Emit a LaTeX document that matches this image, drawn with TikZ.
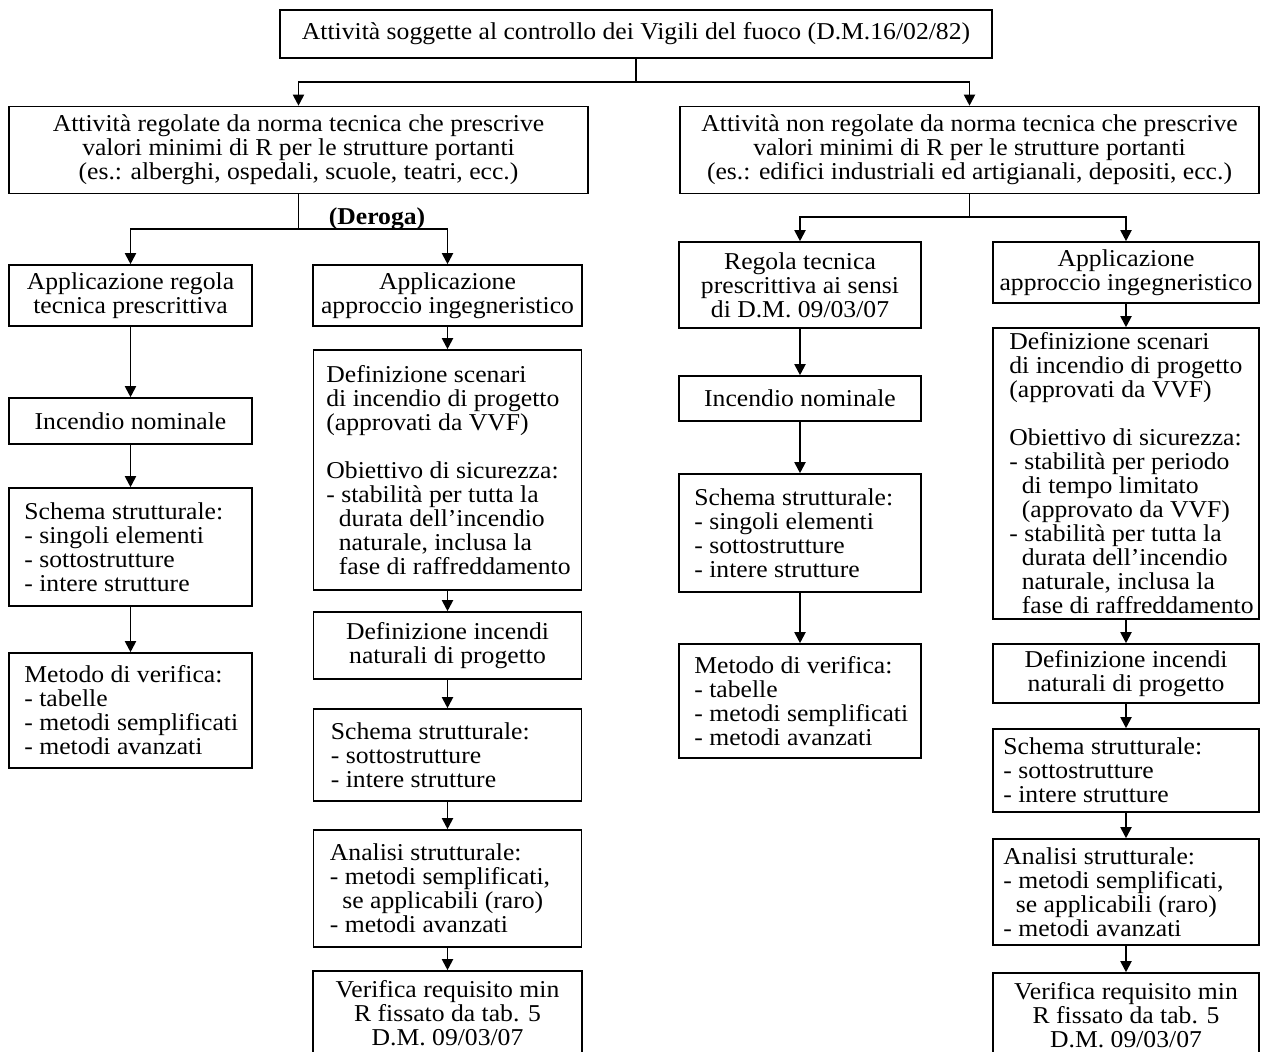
\documentclass[tikz,border=0pt]{standalone}
\usepackage{fontspec}
\setmainfont{Liberation Serif}[FakeStretch=1.06]
\usetikzlibrary{arrows.meta}
\begin{document}
\begin{tikzpicture}[x=1pt,y=-1pt,
  box/.style n args={2}{draw, line width=1.6pt, inner sep=0pt, minimum width=#1pt, minimum height=#2pt, align=center},
  txt/.style={inner sep=0pt, align=left},
  ctxt/.style={inner sep=0pt, align=center},
  arr/.style={line width=1.9pt, -{Triangle[length=11pt,width=11pt]}},
  ln/.style={line width=1.9pt},
  every node/.append style={font=\fontsize{24.2}{24}\selectfont}]
\path[use as bounding box, fill=white] (0,0) rectangle (1261,1052);
\newcommand{\ind}{\hspace*{12.5pt}}
% boxes
\node[box={712}{48}] (top) at (636,34) {Attività soggette al controllo dei Vigili del fuoco (D.M.16/02/82)};
\node[box={579}{87}] (a1) at (298.5,150) {Attività regolate da norma tecnica che prescrive\\ valori minimi di R per le strutture portanti\\ (es.: alberghi, ospedali, scuole, teatri, ecc.)};
\node[box={579}{87}] (b1) at (969.5,150) {Attività non regolate da norma tecnica che prescrive\\ valori minimi di R per le strutture portanti\\ (es.: edifici industriali ed artigianali, depositi, ecc.)};
\node[box={243}{61}] (a2) at (130.5,295.5) {Applicazione regola\\ tecnica prescrittiva};
\node[box={269}{61}] (a3) at (447.5,295.5) {Applicazione\\ approccio ingegneristico};
\node[box={242}{86}] (b2) at (800,285) {Regola tecnica\\ prescrittiva ai sensi\\ di D.M. 09/03/07};
\node[box={266}{61}] (b3) at (1126,272.5) {Applicazione\\ approccio ingegneristico};
\node[box={243}{46}] (a4) at (130.5,421) {Incendio nominale};
\node[box={243}{118}] (a5) at (130.5,547) {};
\node[box={243}{115}] (a6) at (130.5,710.5) {};
\node[box={268}{240}] (a7) at (447.5,470) {};
\node[box={268}{67}] (a8) at (447.5,645.5) {Definizione incendi\\ naturali di progetto};
\node[box={268}{92}] (a9) at (447.5,755) {};
\node[box={268}{117}] (a10) at (447.5,888.5) {};
\node[box={269}{99}] (a11) at (447.5,1020.5) {};
\node[box={242}{45}] (b4) at (800,398.5) {Incendio nominale};
\node[box={242}{118}] (b5) at (800,533) {};
\node[box={242}{114}] (b6) at (800,701) {};
\node[box={266}{291}] (b7) at (1126,473.5) {};
\node[box={266}{59}] (b8) at (1126,673.5) {Definizione incendi\\ naturali di progetto};
\node[box={266}{83}] (b9) at (1126,770.5) {};
\node[box={266}{106}] (b10) at (1126,892) {};
\node[box={266}{97}] (b11) at (1126,1021.5) {};
% left-aligned texts
\node[txt, anchor=west] (a5t) at ([xshift=16pt]a5.west) {Schema strutturale:\\ - singoli elementi\\ - sottostrutture\\ - intere strutture};
\node[txt, anchor=west] (a6t) at ([xshift=16pt]a6.west) {Metodo di verifica:\\ - tabelle\\ - metodi semplificati\\ - metodi avanzati};
\node[txt, anchor=west] (a7t) at ([xshift=13.5pt]a7.west) {Definizione scenari\\ di incendio di progetto\\ (approvati da VVF)\\[24pt] Obiettivo di sicurezza:\\ - stabilità per tutta la\\ \ind durata dell’incendio\\ \ind naturale, inclusa la\\ \ind fase di raffreddamento};
\node[txt, anchor=west] (a9t) at ([xshift=18pt]a9.west) {Schema strutturale:\\ - sottostrutture\\ - intere strutture};
\node[txt, anchor=west] (a10t) at ([xshift=17pt]a10.west) {Analisi strutturale:\\ - metodi semplificati,\\ \ind se applicabili (raro)\\ - metodi avanzati};
\node[ctxt, anchor=north] (a11t) at ([yshift=-10pt]a11.north) {Verifica requisito min\\ R fissato da tab. 5\\ D.M. 09/03/07};
\node[txt, anchor=west] (b5t) at ([xshift=16pt]b5.west) {Schema strutturale:\\ - singoli elementi\\ - sottostrutture\\ - intere strutture};
\node[txt, anchor=west] (b6t) at ([xshift=16pt]b6.west) {Metodo di verifica:\\ - tabelle\\ - metodi semplificati\\ - metodi avanzati};
\node[txt, anchor=west] (b7t) at ([xshift=17pt]b7.west) {Definizione scenari\\ di incendio di progetto\\ (approvati da VVF)\\[24pt] Obiettivo di sicurezza:\\ - stabilità per periodo\\ \ind di tempo limitato\\ \ind (approvato da VVF)\\ - stabilità per tutta la\\ \ind durata dell’incendio\\ \ind naturale, inclusa la\\ \ind fase di raffreddamento};
\node[txt, anchor=west] (b9t) at ([xshift=11pt]b9.west) {Schema strutturale:\\ - sottostrutture\\ - intere strutture};
\node[txt, anchor=west] (b10t) at ([xshift=11pt]b10.west) {Analisi strutturale:\\ - metodi semplificati,\\ \ind se applicabili (raro)\\ - metodi avanzati};
\node[ctxt, anchor=north] (b11t) at ([yshift=-10pt]b11.north) {Verifica requisito min\\ R fissato da tab. 5\\ D.M. 09/03/07};
% deroga label
\node[inner sep=0pt, font=\fontsize{24.2}{24}\selectfont\bfseries] (deroga) at (377,219) {(Deroga)};
% junctions
\coordinate (j0) at (636,82);
\coordinate (j1) at (298.5,229);
\coordinate (j2) at (969.5,217);
\draw[ln] (top.south) -- (j0);
\draw[arr] (j0) -| (a1.north);
\draw[arr] (j0) -| (b1.north);
\draw[ln] (a1.south) -- (j1);
\draw[arr] (j1) -| (a2.north);
\draw[arr] (j1) -| (a3.north);
\draw[ln] (b1.south) -- (j2);
\draw[arr] (j2) -| (b2.north);
\draw[arr] (j2) -| (b3.north);
% chains
\draw[arr] (a2) -- (a4);
\draw[arr] (a4) -- (a5);
\draw[arr] (a5) -- (a6);
\draw[arr] (a3) -- (a7);
\draw[arr] (a7) -- (a8);
\draw[arr] (a8) -- (a9);
\draw[arr] (a9) -- (a10);
\draw[arr] (a10) -- (a11);
\draw[arr] (b2) -- (b4);
\draw[arr] (b4) -- (b5);
\draw[arr] (b5) -- (b6);
\draw[arr] (b3) -- (b7);
\draw[arr] (b7) -- (b8);
\draw[arr] (b8) -- (b9);
\draw[arr] (b9) -- (b10);
\draw[arr] (b10) -- (b11);
\end{tikzpicture}
\end{document}
